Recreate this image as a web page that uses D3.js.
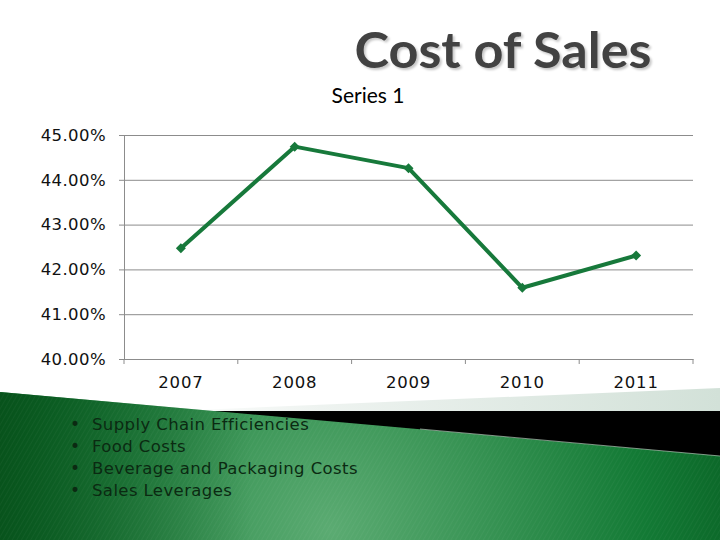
<!DOCTYPE html>
<html>
<head>
<meta charset="utf-8">
<script src="https://cdn.jsdelivr.net/npm/d3@7"></script>
<style>
  html, body { margin: 0; padding: 0; background: #fff; }
  svg { display: block; }
</style>
</head>
<body>
<div id="slide"></div>
<script>
// chart data
var years = ['2007', '2008', '2009', '2010', '2011']
var costOfSales = [42.47, 44.74, 44.26, 41.59, 42.31]
var yTicks = [40, 41, 42, 43, 44, 45]
var bullets = ['Supply Chain Efficiencies', 'Food Costs', 'Beverage and Packaging Costs', 'Sales Leverages']

var width = 720,
    height = 540,
    plot = {left: 124, right: 693, top: 135, bottom: 359},
    colors = {
        line: '#17793b',
        grid: '#8c8c8c',
        axis: '#8c8c8c',
        text: '#111',
        title: '#424242'
    }

var svg = d3.select('#slide').append('svg')
    .attr('width', width)
    .attr('height', height)

var defs = svg.append('defs')

// green swoosh gradient
var rg = defs.append('radialGradient')
    .attr('id', 'greenGrad')
    .attr('gradientUnits', 'userSpaceOnUse')
    .attr('cx', 330).attr('cy', 530).attr('r', 420)
rg.append('stop').attr('offset', 0).attr('stop-color', '#5bab72')
rg.append('stop').attr('offset', 0.35).attr('stop-color', '#3a9556')
rg.append('stop').attr('offset', 0.75).attr('stop-color', '#137a35')
rg.append('stop').attr('offset', 1).attr('stop-color', '#0a6426')

var lg = defs.append('linearGradient')
    .attr('id', 'leftShade')
    .attr('x1', 0).attr('x2', 1).attr('y1', 0).attr('y2', 0)
lg.append('stop').attr('offset', 0).attr('stop-color', '#064d18').attr('stop-opacity', 0.85)
lg.append('stop').attr('offset', 0.35).attr('stop-color', '#064d18').attr('stop-opacity', 0)

var band = defs.append('linearGradient')
    .attr('id', 'bandGrad')
    .attr('x1', 0).attr('x2', 1).attr('y1', 0).attr('y2', 0)
band.append('stop').attr('offset', 0).attr('stop-color', '#ffffff')
band.append('stop').attr('offset', 0.3).attr('stop-color', '#eef3f0')
band.append('stop').attr('offset', 1).attr('stop-color', '#d2e1d8')

var pat = defs.append('pattern')
    .attr('id', 'stripes')
    .attr('patternUnits', 'userSpaceOnUse')
    .attr('width', 4).attr('height', 4)
    .attr('patternTransform', 'rotate(30)')
pat.append('line')
    .attr('x1', 0).attr('y1', 0).attr('x2', 0).attr('y2', 4)
    .attr('stroke', '#ffffff').attr('stroke-width', 1).attr('stroke-opacity', 0.07)

var title_shadow = defs.append('filter').attr('id', 'shadow')
    .attr('x', '-5%').attr('y', '-5%').attr('width', '110%').attr('height', '120%')
title_shadow.append('feDropShadow')
    .attr('dx', 2).attr('dy', 2).attr('stdDeviation', 1)
    .attr('flood-color', '#000').attr('flood-opacity', 0.22)

// background shapes
var bg = svg.append('g')

bg.append('path')
    .attr('d', 'M150,412 L720,388 L720,412 Z')
    .attr('fill', 'url(#bandGrad)')

bg.append('path')
    .attr('d', 'M205,411 L720,411 L720,457 Z')
    .attr('fill', '#000')

var greenTop = 'M0,392 L720,456 L720,540 L0,540 Z'
bg.append('path').attr('d', greenTop).attr('fill', 'url(#greenGrad)')
bg.append('path').attr('d', greenTop).attr('fill', 'url(#leftShade)')
bg.append('path').attr('d', greenTop).attr('fill', 'url(#stripes)')

bg.append('line')
    .attr('x1', 420).attr('y1', 429).attr('x2', 720).attr('y2', 456)
    .attr('stroke', '#cfe3d4').attr('stroke-width', 1).attr('stroke-opacity', 0.6)

// title
svg.append('text')
    .attr('x', 503).attr('y', 68)
    .attr('text-anchor', 'middle')
    .attr('font-family', 'Lato, "Open Sans", sans-serif')
    .attr('font-weight', 'bold')
    .attr('font-size', 50)
    .attr('textLength', 297)
    .attr('lengthAdjust', 'spacingAndGlyphs')
    .attr('fill', colors.title)
    .attr('filter', 'url(#shadow)')
    .text('Cost of Sales')

svg.append('text')
    .attr('x', 368).attr('y', 103)
    .attr('text-anchor', 'middle')
    .attr('font-family', 'Lato, sans-serif')
    .attr('font-size', 21)
    .attr('fill', '#000')
    .text('Series 1')

// scales
var x = d3.scaleBand()
    .domain(years)
    .range([plot.left, plot.right])

var y = d3.scaleLinear()
    .domain([d3.min(yTicks), d3.max(yTicks)])
    .range([plot.bottom, plot.top])

var chart = svg.append('g')

// gridlines
chart.append('g')
    .attr('transform', 'translate(' + plot.left + ',0)')
    .call(d3.axisLeft(y).tickValues(yTicks).tickSize(-(plot.right - plot.left)).tickFormat(''))
    .call(function(g) {
        g.select('.domain').remove()
        g.selectAll('line').attr('stroke', colors.grid).attr('stroke-width', 1)
    })

// y axis
chart.append('g')
    .attr('transform', 'translate(' + plot.left + ',0)')
    .call(d3.axisLeft(y).tickValues(yTicks).tickSize(5).tickPadding(13)
        .tickFormat(function(d) { return d.toFixed(2) + '%' }))
    .call(function(g) {
        g.select('.domain').attr('stroke', colors.axis)
        g.selectAll('line').attr('stroke', colors.axis)
        g.selectAll('text')
            .attr('font-family', '"DejaVu Sans", sans-serif')
            .attr('font-size', 16.5)
            .attr('letter-spacing', 0.4)
            .attr('fill', colors.text)
    })

// x axis
chart.append('g')
    .attr('transform', 'translate(0,' + plot.bottom + ')')
    .call(d3.axisBottom(x).tickSize(0).tickPadding(17))
    .call(function(g) {
        g.select('.domain').attr('stroke', colors.axis)
        g.selectAll('text')
            .attr('font-family', '"DejaVu Sans", sans-serif')
            .attr('font-size', 16.5)
            .attr('letter-spacing', 0.8)
            .attr('fill', colors.text)
    })

var bounds = years.map(function(d) { return x(d) }).concat([x.range()[1]])
chart.append('g').selectAll('line')
    .data(bounds)
    .join('line')
    .attr('x1', function(d) { return d }).attr('x2', function(d) { return d })
    .attr('y1', plot.bottom).attr('y2', plot.bottom + 5)
    .attr('stroke', colors.axis)

// series line
var pts = years.map(function(d, i) { return {year: d, value: costOfSales[i]} })

var line = d3.line()
    .x(function(d) { return x(d.year) + x.bandwidth() / 2 })
    .y(function(d) { return y(d.value) })

chart.append('path')
    .datum(pts)
    .attr('d', line)
    .attr('fill', 'none')
    .attr('stroke', colors.line)
    .attr('stroke-width', 4)
    .attr('stroke-linejoin', 'round')

chart.append('g').selectAll('path')
    .data(pts)
    .join('path')
    .attr('d', d3.symbol().type(d3.symbolSquare).size(50))
    .attr('transform', function(d) {
        return 'translate(' + (x(d.year) + x.bandwidth() / 2) + ',' + y(d.value) + ') rotate(45)'
    })
    .attr('fill', colors.line)

// bullet list
var list = svg.append('g')
    .attr('font-family', '"DejaVu Sans", sans-serif')
    .attr('font-size', 16.5)
    .attr('fill', '#0b2a12')

list.selectAll('text.bullet')
    .data(bullets)
    .join('text')
    .attr('class', 'bullet')
    .attr('x', 70)
    .attr('y', function(d, i) { return 430 + i * 22 })
    .attr('font-size', 17)
    .text('•')

list.selectAll('text.item')
    .data(bullets)
    .join('text')
    .attr('class', 'item')
    .attr('x', 92)
    .attr('y', function(d, i) { return 430 + i * 22 })
    .attr('letter-spacing', 0.4)
    .text(function(d) { return d })
</script>
</body>
</html>
